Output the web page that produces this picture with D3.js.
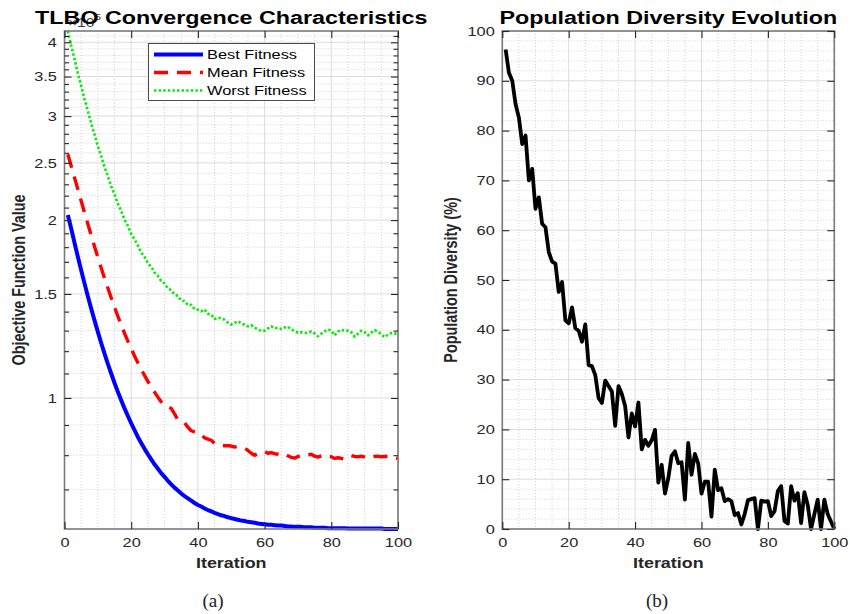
<!DOCTYPE html>
<html><head><meta charset="utf-8">
<script src="https://cdn.jsdelivr.net/npm/d3@7"></script>
<style>body{margin:0;background:#fff}svg{display:block}</style>
</head><body>
<svg id="chart" width="850" height="614"></svg>
<script>
// ---------------- data ----------------
const iterations = d3.range(1, 101);
const fitnessExponent = 5; // values below are x 10^5
const bestFitness = [
2.040,1.936,1.831,1.734,1.645,1.563,1.487,1.417,1.353,1.294,
1.239,1.189,1.142,1.100,1.060,1.024,0.991,0.960,0.932,0.906,
0.882,0.859,0.839,0.820,0.803,0.787,0.772,0.759,0.746,0.735,
0.724,0.714,0.705,0.697,0.689,0.682,0.676,0.670,0.664,0.659,
0.655,0.650,0.646,0.643,0.639,0.636,0.633,0.631,0.628,0.626,
0.624,0.622,0.620,0.619,0.617,0.616,0.615,0.613,0.612,0.611,
0.610,0.610,0.609,0.608,0.608,0.607,0.606,0.606,0.605,0.605,
0.605,0.604,0.604,0.604,0.603,0.603,0.603,0.603,0.602,0.602,
0.602,0.602,0.602,0.602,0.601,0.601,0.601,0.601,0.601,0.601,
0.601,0.601,0.601,0.601,0.601,0.600,0.600,0.600,0.600,0.600];
const meanFitness = [
2.585,2.470,2.360,2.255,2.155,2.060,1.970,1.885,1.805,1.730,
1.660,1.595,1.535,1.478,1.425,1.375,1.330,1.287,1.248,1.212,
1.178,1.147,1.118,1.092,1.067,1.044,1.023,1.003,0.985,0.970,
0.966,0.960,0.940,0.918,0.912,0.908,0.892,0.880,0.876,0.874,
0.866,0.856,0.852,0.848,0.838,0.832,0.831,0.830,0.830,0.829,
0.826,0.828,0.826,0.822,0.815,0.806,0.800,0.806,0.811,0.812,
0.806,0.808,0.805,0.803,0.800,0.804,0.798,0.793,0.791,0.796,
0.797,0.795,0.800,0.803,0.797,0.794,0.798,0.801,0.796,0.795,
0.790,0.792,0.790,0.788,0.793,0.799,0.796,0.795,0.797,0.794,
0.790,0.792,0.796,0.797,0.795,0.796,0.797,0.797,0.794,0.789];
const worstFitness = [
4.180,3.950,3.748,3.545,3.375,3.205,3.062,2.915,2.793,2.668,
2.566,2.460,2.374,2.283,2.211,2.131,2.072,2.004,1.955,1.895,
1.856,1.812,1.762,1.733,1.690,1.668,1.630,1.609,1.578,1.562,
1.533,1.522,1.496,1.488,1.462,1.459,1.436,1.438,1.413,1.410,
1.402,1.412,1.388,1.384,1.360,1.368,1.364,1.356,1.342,1.331,
1.340,1.349,1.338,1.330,1.322,1.328,1.316,1.306,1.298,1.300,
1.312,1.322,1.312,1.315,1.308,1.316,1.320,1.305,1.300,1.290,
1.292,1.288,1.290,1.296,1.286,1.272,1.285,1.296,1.306,1.300,
1.276,1.295,1.305,1.298,1.300,1.292,1.270,1.284,1.300,1.292,
1.276,1.290,1.302,1.295,1.281,1.268,1.280,1.288,1.284,1.292];
const diversity = [
96.3,91.6,90.0,85.3,82.6,77.3,79.0,70.0,72.3,64.3,
66.6,61.3,60.6,55.6,53.7,53.3,47.6,49.6,41.9,41.3,
44.5,40.3,39.8,37.6,41.1,32.9,32.7,30.9,26.3,25.3,
29.8,28.7,27.6,20.7,28.7,27.1,24.7,18.4,23.2,20.6,
25.4,16.0,17.9,16.7,17.8,19.9,9.3,12.9,7.1,10.2,
14.7,15.6,13.2,13.4,5.9,17.3,10.9,15.1,13.2,7.1,
9.5,9.5,2.5,11.9,7.8,8.2,5.6,6.0,5.6,2.8,
3.2,0.9,3.0,5.8,6.0,6.2,0.0,5.7,5.5,5.6,
2.6,3.6,7.6,8.6,1.6,1.1,8.6,5.7,7.2,1.2,
7.4,4.8,0.0,3.0,5.9,0.0,5.9,3.0,1.5,0.0];
const fitnessTicks = [1, 1.5, 2, 2.5, 3, 3.5, 4];
const fitnessMinorTicks = [0.7,0.8,0.9,1.1,1.2,1.3,1.4,1.6,1.7,1.8,1.9,2.1,2.2,2.3,2.4,2.6,2.7,2.8,2.9,3.1,3.2,3.3,3.4,3.6,3.7,3.8,3.9,4.1];
const iterTicks = [0, 20, 40, 60, 80, 100];
const iterMinor = [5,10,15,25,30,35,45,50,55,65,70,75,85,90,95];
const diversityTicks = [0,10,20,30,40,50,60,70,80,90,100];
const diversityMinor = d3.range(2, 100, 2).filter(v => v % 10 !== 0);
const legendLabels = ["Best Fitness", "Mean Fitness", "Worst Fitness"];
const titles = ["TLBO Convergence Characteristics", "Population Diversity Evolution"];
const xLabel = "Iteration";
const yLabels = ["Objective Function Value", "Population Diversity (%)"];
const panelTags = ["(a)", "(b)"];

// ---------------- layout ----------------
const SX = 1.26;
const FONT = "'Liberation Sans', Arial, Helvetica, sans-serif";
const TICK_FS = 13;
const TOP = 31, BOT = 529;
const svg = d3.select("#chart");
svg.append("rect").attr("width", 850).attr("height", 614).attr("fill", "#fff");

function stext(g, x, y, str, o = {}) {
  const t = g.append("text")
    .attr("transform", `translate(${x},${y}) scale(${o.sx ?? SX},1)` + (o.rot ? ` rotate(${o.rot})` : ""))
    .attr("text-anchor", o.anchor || "middle")
    .attr("font-family", o.family || FONT)
    .attr("font-size", o.size || TICK_FS)
    .attr("font-weight", o.weight || "normal")
    .attr("fill", o.fill || "#262626")
    .text(str);
  return t;
}

function panel(x0, x1, yScale, yMajor, yMinor, xMinor) {
  const x = d3.scaleLinear().domain([0, 100]).range([x0, x1]);
  const g = svg.append("g");
  const grid = g.append("g");
  grid.selectAll(".mgx").data(xMinor).join("line")
    .attr("x1", d => x(d)).attr("x2", d => x(d)).attr("y1", TOP).attr("y2", BOT)
    .attr("stroke", "#d2d2d2").attr("stroke-width", 1).attr("stroke-dasharray", "1,2");
  grid.selectAll(".mgy").data(yMinor).join("line")
    .attr("x1", x0).attr("x2", x1).attr("y1", d => yScale(d)).attr("y2", d => yScale(d))
    .attr("stroke", "#d2d2d2").attr("stroke-width", 1).attr("stroke-dasharray", "1,2");
  grid.selectAll(".Mgx").data(iterTicks).join("line")
    .attr("x1", d => x(d)).attr("x2", d => x(d)).attr("y1", TOP).attr("y2", BOT)
    .attr("stroke", "#dcdcdc").attr("stroke-width", 1);
  grid.selectAll(".Mgy").data(yMajor).join("line")
    .attr("x1", x0).attr("x2", x1).attr("y1", d => yScale(d)).attr("y2", d => yScale(d))
    .attr("stroke", "#dcdcdc").attr("stroke-width", 1);
  return {x, g};
}

function axes(p, x0, x1, yScale, yMajor, yMinorTicks, fmt) {
  const { x, g } = p;
  const style = sel => {
    sel.select(".domain").remove();
    sel.selectAll(".tick line").attr("stroke", "#262626").attr("stroke-width", 1.1);
    sel.selectAll(".tick text").attr("fill", "#262626").attr("font-family", FONT)
      .attr("font-size", TICK_FS).attr("transform", `scale(${SX},1)`);
  };
  g.append("rect").attr("x", x0).attr("y", TOP).attr("width", x1 - x0).attr("height", BOT - TOP)
    .attr("fill", "none").attr("stroke", "#7a7a7a").attr("stroke-width", 1.6);
  g.append("g").attr("transform", `translate(0,${BOT})`)
    .call(d3.axisBottom(x).tickValues(iterTicks).tickSize(-7).tickPadding(9)).call(style);
  g.append("g").attr("transform", `translate(0,${TOP})`)
    .call(d3.axisTop(x).tickValues(iterTicks).tickSize(-7).tickFormat("")).call(style);
  g.append("g").attr("transform", `translate(${x0},0)`)
    .call(d3.axisLeft(yScale).tickValues(yMajor).tickSize(-7).tickPadding(6).tickFormat(fmt)).call(style);
  g.append("g").attr("transform", `translate(${x1},0)`)
    .call(d3.axisRight(yScale).tickValues(yMajor).tickSize(-7).tickFormat("")).call(style);
  if (yMinorTicks) {
    g.append("g").attr("transform", `translate(${x0},0)`)
      .call(d3.axisLeft(yScale).tickValues(yMinorTicks).tickSize(-4.5).tickFormat("")).call(style);
    g.append("g").attr("transform", `translate(${x1},0)`)
      .call(d3.axisRight(yScale).tickValues(yMinorTicks).tickSize(-4.5).tickFormat("")).call(style);
  }
}

// ---------------- panel (a) ----------------
const ax0 = 64.5, ax1 = 398;
const allFit = bestFitness.concat(meanFitness, worstFitness);
const yA = d3.scaleLog().domain(d3.extent(allFit)).range([BOT, TOP]);
const minorA = fitnessMinorTicks.filter(v => v >= yA.domain()[0] && v <= yA.domain()[1]);
const pA = panel(ax0, ax1, yA, fitnessTicks, minorA, iterMinor);
svg.append("clipPath").attr("id", "clipA").append("rect")
  .attr("x", ax0 - 3).attr("y", TOP - 3).attr("width", ax1 - ax0 + 6).attr("height", BOT - TOP + 6);
const lineA = d3.line().x((d, i) => pA.x(iterations[i])).y(d => yA(d));
const seriesA = [
  { data: bestFitness, color: "#0000ff", width: 4, dash: null },
  { data: meanFitness, color: "#ff0000", width: 3.4, dash: "14,9" },
  { data: worstFitness, color: "#00ee00", width: 2.6, dash: "2.4,2.2" }
];
const linesA = pA.g.append("g").attr("clip-path", "url(#clipA)");
[seriesA[2], seriesA[1], seriesA[0]].forEach(s => {
  linesA.append("path").attr("d", lineA(s.data)).attr("fill", "none")
    .attr("stroke", s.color).attr("stroke-width", s.width)
    .attr("stroke-dasharray", s.dash).attr("stroke-linejoin", "round");
});
axes(pA, ax0, ax1, yA, fitnessTicks, minorA, d3.format(""));

// exponent label (sits under the title, as in the reference)
const ex = stext(svg, 68, 27, "×10", { anchor: "start", size: 12.4, fill: "#404040" });
ex.append("tspan").attr("dy", -7).attr("font-size", 9.5).text(fitnessExponent);

// legend
const lg = svg.append("g");
lg.append("rect").attr("x", 148.5).attr("y", 43.5).attr("width", 166).attr("height", 57)
  .attr("fill", "#fff").attr("stroke", "#4a4a4a").attr("stroke-width", 1);
legendLabels.forEach((lab, i) => {
  const s = seriesA[i];
  const yy = 54.5 + i * 18;
  lg.append("line").attr("x1", 154).attr("x2", 203).attr("y1", yy).attr("y2", yy)
    .attr("stroke", s.color).attr("stroke-width", s.width).attr("stroke-dasharray", s.dash);
  stext(lg, 207, yy + 4.6, lab, { anchor: "start", size: 13, fill: "#000" });
});

// ---------------- panel (b) ----------------
const bx0 = 502.3, bx1 = 834.3;
const yB = d3.scaleLinear().domain([0, 100]).range([BOT, TOP]);
const pB = panel(bx0, bx1, yB, diversityTicks, diversityMinor, iterMinor);
const lineB = d3.line().x((d, i) => pB.x(iterations[i])).y(d => yB(d));
pB.g.append("path").attr("d", lineB(diversity)).attr("fill", "none")
  .attr("stroke", "#000").attr("stroke-width", 3.8).attr("stroke-linejoin", "round");
axes(pB, bx0, bx1, yB, diversityTicks, null, d3.format("d"));

// ---------------- titles & labels ----------------
const cA = (ax0 + ax1) / 2, cB = (bx0 + bx1) / 2;
stext(svg, cA, 24, titles[0], { size: 18.5, weight: "bold", fill: "#000" });
stext(svg, cB, 24, titles[1], { size: 18.5, weight: "bold", fill: "#000" });
stext(svg, cA, 568, xLabel, { size: 14.2, weight: "bold" });
stext(svg, cB, 568, xLabel, { size: 14.2, weight: "bold" });
stext(svg, 24.5, (TOP + BOT) / 2, yLabels[0], { size: 14.4, weight: "bold", rot: -90 });
stext(svg, 457, (TOP + BOT) / 2, yLabels[1], { size: 14.4, weight: "bold", rot: -90 });
stext(svg, 213, 607, panelTags[0], { size: 19, sx: 1, family: "'Liberation Serif', 'Times New Roman', serif", fill: "#222" });
stext(svg, 657, 607, panelTags[1], { size: 19, sx: 1, family: "'Liberation Serif', 'Times New Roman', serif", fill: "#222" });
</script>
</body></html>
